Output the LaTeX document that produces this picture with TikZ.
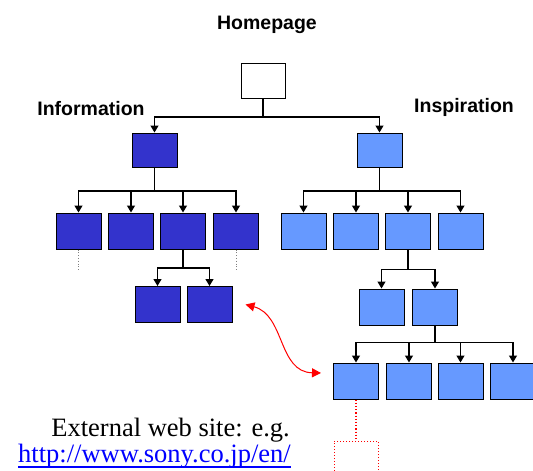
\documentclass[tikz,border=0pt]{standalone}
\usepackage{fontspec}
\setmainfont{Liberation Serif}
\setsansfont{Liberation Sans}
\usetikzlibrary{arrows.meta}
\definecolor{dblue}{HTML}{3333CC}
\definecolor{lblue}{HTML}{6699FF}
\definecolor{linkblue}{HTML}{0000FF}
\begin{document}
\begin{tikzpicture}[x=1pt,y=-1pt,
  pg/.style={draw=black, line width=1pt, minimum width=45pt, minimum height=36pt, inner sep=0pt},
  dk/.style={pg, fill=dblue},
  lt/.style={pg, fill=lblue},
  plainline/.style={line width=1.2pt},
  conn/.style={line width=1.2pt, -{Triangle[width=8pt,length=7pt]}},
  lbl/.style={font=\sffamily\bfseries\fontsize{19.5}{22}\selectfont, inner sep=0pt},
  serif/.style={font=\fontsize{26.5}{30}\selectfont, inner sep=0pt}]
\useasboundingbox (0,0) rectangle (533,471);

% labels
\node[lbl] (thome) at (267,25) {Homepage};
\node[lbl] (tinfo) at (91,109) {Information};
\node[lbl] (tinsp) at (464,107) {Inspiration};

% boxes
\node[pg, fill=white, minimum width=44pt, minimum height=35pt] (home) at (263,80.5) {};
\node[dk, minimum height=34pt] (info) at (154.5,150) {};
\node[lt, minimum height=34pt] (insp) at (379.5,150) {};

\node[dk] (L1) at (78.5,231) {};
\node[dk] (L2) at (131,231) {};
\node[dk] (L3) at (183,231) {};
\node[dk] (L4) at (236,231) {};
\node[lt] (R1) at (303.5,231) {};
\node[lt] (R2) at (356,231) {};
\node[lt] (R3) at (408,231) {};
\node[lt] (R4) at (460.5,231) {};

\node[dk] (La) at (157.5,304.5) {};
\node[dk] (Lb) at (209.5,304.5) {};
\node[lt] (Ra) at (381.5,307) {};
\node[lt] (Rb) at (435,307) {};

\node[lt] (S1) at (356,381) {};
\node[lt] (S2) at (409,381) {};
\node[lt] (S3) at (460.5,381) {};
\node[lt] (S4) at (513,381) {};

\node[draw=red, dotted, line width=1pt, minimum width=44pt, minimum height=36pt, inner sep=0pt] (ext) at (356,459) {};

% junctions
\coordinate (j0) at (263,117);
\coordinate (j1) at (154.5,191);
\coordinate (j2) at (379.5,191);
\coordinate (j3) at (183,268);
\coordinate (j4) at (408,269.5);
\coordinate (j5) at (435,342.5);

\draw[plainline] (home.south) -- (j0);
\draw[conn] (j0) -| (info.north);
\draw[conn] (j0) -| (insp.north);

\draw[plainline] (info.south) -- (j1);
\foreach \n in {L1,L2,L3,L4} \draw[conn] (j1) -| (\n.north);
\draw[plainline] (insp.south) -- (j2);
\foreach \n in {R1,R2,R3,R4} \draw[conn] (j2) -| (\n.north);

\draw[plainline] (L3.south) -- (j3);
\foreach \n in {La,Lb} \draw[conn] (j3) -| (\n.north);
\draw[plainline] (R3.south) -- (j4);
\foreach \n in {Ra,Rb} \draw[conn] (j4) -| (\n.north);

\draw[plainline] (Rb.south) -- (j5);
\foreach \n in {S1,S2,S3,S4} \draw[conn] (j5) -| (\n.north);

% gray dotted stubs
\coordinate (d1) at (78.5,271);
\coordinate (d4) at (236,271);
\draw[gray, dotted, line width=0.8pt] (L1.south) -- (d1);
\draw[gray, dotted, line width=0.8pt] (L4.south) -- (d4);

% red link to external site
\draw[red, dotted, line width=1.2pt] (S1.south) -- (ext.north);

% red curved double arrow
\draw[red, line width=1pt, {Triangle[width=9pt,length=9pt]}-{Triangle[width=9pt,length=9pt]}]
  ([xshift=13pt]Lb.east) .. controls (285,315) and (278,372) .. ([xshift=-12pt,yshift=8pt]S1.west);

% texts
\node[serif, anchor=base east] (exttxt) at (290,436) {External web site: e.g.};
\node[serif, anchor=base east, text=linkblue] (url) at (291,462.5) {http://www.sony.co.jp/en/};
\draw[linkblue, line width=1.3pt] ([yshift=-4.5pt]url.base west) -- ([yshift=-4.5pt]url.base east);
\end{tikzpicture}
\end{document}
